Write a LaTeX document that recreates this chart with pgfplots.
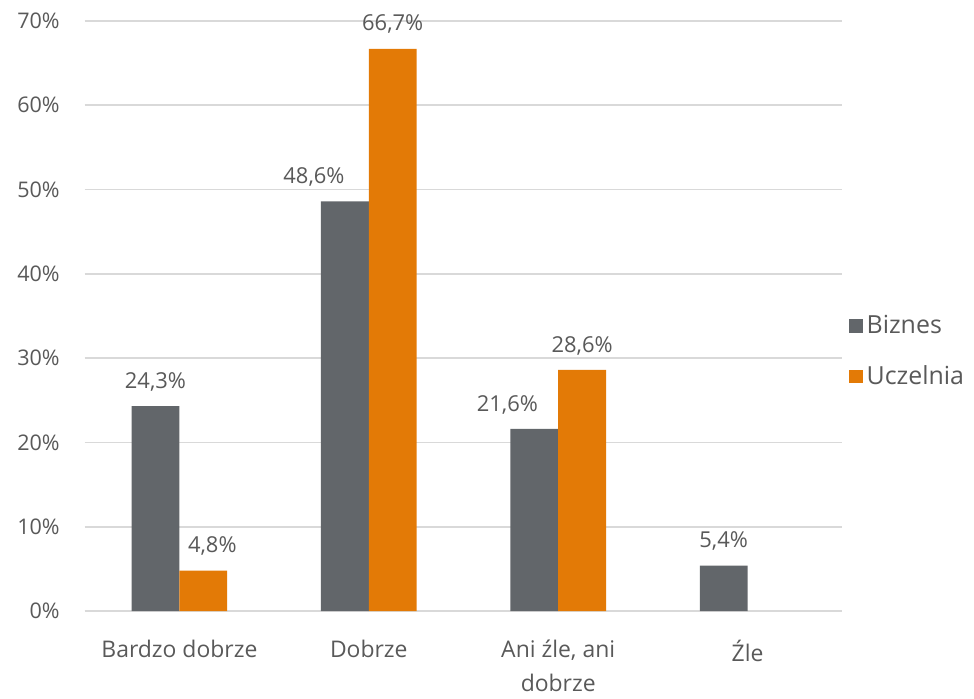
\documentclass[border=0pt]{standalone}
\usepackage{pgfplots}
\pgfplotsset{compat=1.18}
\usepackage{fontspec}
\setmainfont{Open Sans}
\definecolor{biz}{HTML}{62666A}
\definecolor{ucz}{HTML}{E37A06}
\definecolor{txt}{HTML}{595959}
\definecolor{grd}{HTML}{D9D9D9}
\newcommand\lsh[2]{\makebox[0pt]{\hspace*{#1}#2}}
\begin{document}
\begin{tikzpicture}
\begin{axis}[
  scale only axis,
  width=380pt, height=296pt,
  xmin=-0.5, xmax=3.5,
  ymin=0, ymax=70,
  ybar, bar width=24pt,
  xtick={0,1,2,3},
  xticklabels={Bardzo dobrze, Dobrze, {Ani źle, ani\\dobrze}, Źle},
  xticklabel style={align=center, text=txt, font=\fontsize{11.5}{17}\selectfont},
  ytick={0,10,...,70},
  yticklabel={\pgfmathprintnumber{\tick}\%},
  yticklabel style={text=txt, font=\fontsize{10.8}{12}\selectfont},
  /pgf/number format/assume math mode=true,
  ymajorgrids, grid style={grd, line width=0.8pt},
  axis line style={draw=none},
  axis x line*=bottom,
  x axis line style={draw=grd, line width=0.8pt},
  major tick length=0pt,
  tick style={draw=none},
  xtick pos=bottom,
  xticklabel shift=11pt,
  yticklabel shift=9pt,
  clip=false,
  point meta=explicit symbolic,
  nodes near coords,
  nodes near coords style={text=txt, font=\fontsize{11}{12}\selectfont, yshift=4pt},
  legend style={at={(rel axis cs:1.0,0.44)}, anchor=west, draw=none, fill=none,
    font=\fontsize{12.5}{15}\selectfont, text=txt, row sep=10.5pt,
    /tikz/every even column/.append style={column sep=5pt}},
  legend cell align=left,
  legend image code/.code={\fill[#1] (0pt,-3.5pt) rectangle (7pt,3.5pt);},
]
\addplot[fill=biz, draw=none, bar shift=-12pt] coordinates {
  (0,24.3) [24,3\%]
  (1,48.6) [\lsh{-31pt}{48,6\%}]
  (2,21.6) [\lsh{-27pt}{21,6\%}]
  (3,5.4) [5,4\%]
};
\addlegendentry{Biznes}
\addplot[fill=ucz, draw=none, bar shift=12pt] coordinates {
  (0,4.8) [\lsh{9pt}{4,8\%}]
  (1,66.7) [66,7\%]
  (2,28.6) [28,6\%]
};
\addlegendentry{Uczelnia}
\path (rel axis cs:-0.1118,-0.1318) (rel axis cs:1.1697,1.0355);
\end{axis}
\end{tikzpicture}
\end{document}
